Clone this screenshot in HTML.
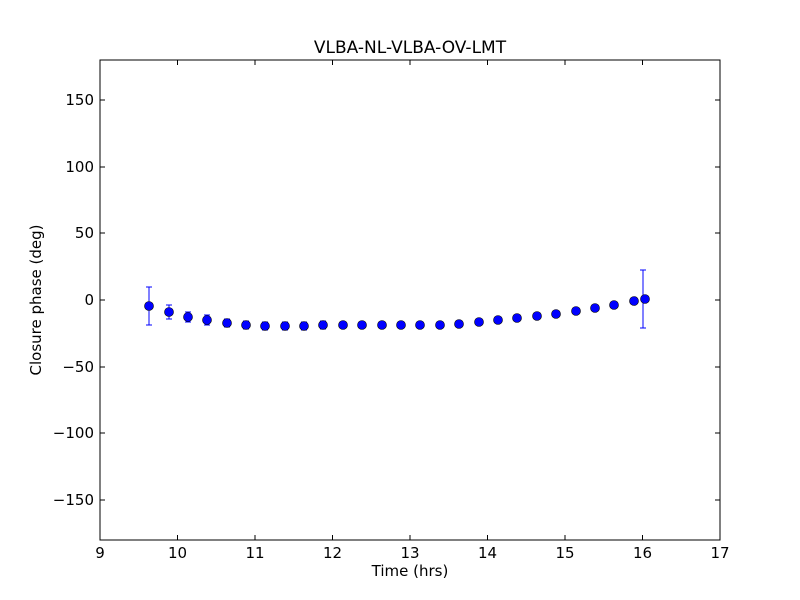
<!DOCTYPE html>
<html><head><style>body{margin:0;background:#fff}svg{display:block}text{font-family:"DejaVu Sans","Liberation Sans",sans-serif;fill:#000}</style></head><body>
<svg width="800" height="600" xmlns="http://www.w3.org/2000/svg">
<rect width="800" height="600" fill="#fff"/>
<text x="410" y="53" font-size="17" text-anchor="middle">VLBA-NL-VLBA-OV-LMT</text>
<g stroke="#000" stroke-width="1">
<line x1="100" y1="100" x2="105" y2="100"/><line x1="715" y1="100" x2="720" y2="100"/>
<line x1="100" y1="167" x2="105" y2="167"/><line x1="715" y1="167" x2="720" y2="167"/>
<line x1="100" y1="233" x2="105" y2="233"/><line x1="715" y1="233" x2="720" y2="233"/>
<line x1="100" y1="300" x2="105" y2="300"/><line x1="715" y1="300" x2="720" y2="300"/>
<line x1="100" y1="367" x2="105" y2="367"/><line x1="715" y1="367" x2="720" y2="367"/>
<line x1="100" y1="433" x2="105" y2="433"/><line x1="715" y1="433" x2="720" y2="433"/>
<line x1="100" y1="500" x2="105" y2="500"/><line x1="715" y1="500" x2="720" y2="500"/>
<line x1="177.5" y1="540" x2="177.5" y2="535"/><line x1="177.5" y1="60" x2="177.5" y2="65"/>
<line x1="255" y1="540" x2="255" y2="535"/><line x1="255" y1="60" x2="255" y2="65"/>
<line x1="332.5" y1="540" x2="332.5" y2="535"/><line x1="332.5" y1="60" x2="332.5" y2="65"/>
<line x1="410" y1="540" x2="410" y2="535"/><line x1="410" y1="60" x2="410" y2="65"/>
<line x1="487.5" y1="540" x2="487.5" y2="535"/><line x1="487.5" y1="60" x2="487.5" y2="65"/>
<line x1="565" y1="540" x2="565" y2="535"/><line x1="565" y1="60" x2="565" y2="65"/>
<line x1="642.5" y1="540" x2="642.5" y2="535"/><line x1="642.5" y1="60" x2="642.5" y2="65"/>
</g>
<g font-size="15" text-anchor="end">
<text x="94" y="105">150</text><text x="94" y="172">100</text><text x="94" y="238">50</text><text x="94" y="305">0</text>
<text x="94" y="372">−50</text><text x="94" y="438">−100</text><text x="94" y="505">−150</text>
</g>
<g font-size="15" text-anchor="middle">
<text x="100" y="558">9</text><text x="177.5" y="558">10</text><text x="255" y="558">11</text><text x="332.5" y="558">12</text>
<text x="410" y="558">13</text><text x="487.5" y="558">14</text><text x="565" y="558">15</text><text x="642.5" y="558">16</text><text x="720" y="558">17</text>
<text x="410" y="576">Time (hrs)</text>
</g>
<text transform="translate(41,300) rotate(-90)" font-size="15" text-anchor="middle">Closure phase (deg)</text>
<g stroke="#0000ff" stroke-width="1">
<path d="M149 287V325M146 287H152M146 325H152"/>
<path d="M169 305V319M166 305H172M166 319H172"/>
<path d="M188 312V322M185 312H191M185 322H191"/>
<path d="M207 315V325M204 315H210M204 325H210"/>
<path d="M227 319V327M224 319H230M224 327H230"/>
<path d="M246 321V329M243 321H249M243 329H249"/>
<path d="M265 322V330M262 322H268M262 330H268"/>
<path d="M285 322V330M282 322H288M282 330H288"/>
<path d="M304 322V330M301 322H307M301 330H307"/>
<path d="M323 321V329M320 321H326M320 329H326"/>
<path d="M343 322V328M340 322H346M340 328H346"/>
<path d="M362 322V328M359 322H365M359 328H365"/>
<path d="M382 322V328M379 322H385M379 328H385"/>
<path d="M401 322V328M398 322H404M398 328H404"/>
<path d="M420 322V328M417 322H423M417 328H423"/>
<path d="M440 322V328M437 322H443M437 328H443"/>
<path d="M459 321V327M456 321H462M456 327H462"/>
<path d="M643 270V328M640 270H646M640 328H646"/>
</g>
<g fill="#0000ff" stroke="#000" stroke-width="0.6">
<circle cx="149" cy="306" r="4.5"/><circle cx="169" cy="312" r="4.5"/><circle cx="188" cy="317" r="4.5"/>
<circle cx="207" cy="320" r="4.5"/><circle cx="227" cy="323" r="4.5"/><circle cx="246" cy="325" r="4.5"/>
<circle cx="265" cy="326" r="4.5"/><circle cx="285" cy="326" r="4.5"/><circle cx="304" cy="326" r="4.5"/>
<circle cx="323" cy="325" r="4.5"/><circle cx="343" cy="325" r="4.5"/><circle cx="362" cy="325" r="4.5"/>
<circle cx="382" cy="325" r="4.5"/><circle cx="401" cy="325" r="4.5"/><circle cx="420" cy="325" r="4.5"/>
<circle cx="440" cy="325" r="4.5"/><circle cx="459" cy="324" r="4.5"/><circle cx="479" cy="322" r="4.5"/>
<circle cx="498" cy="320" r="4.5"/><circle cx="517" cy="318" r="4.5"/><circle cx="537" cy="316" r="4.5"/>
<circle cx="556" cy="314" r="4.5"/><circle cx="576" cy="311" r="4.5"/><circle cx="595" cy="308" r="4.5"/>
<circle cx="614" cy="305" r="4.5"/><circle cx="634" cy="301" r="4.5"/><circle cx="645" cy="299" r="4.5"/>
</g>
<rect x="100" y="60" width="620" height="480" fill="none" stroke="#000" stroke-width="1"/>
</svg>
</body></html>
